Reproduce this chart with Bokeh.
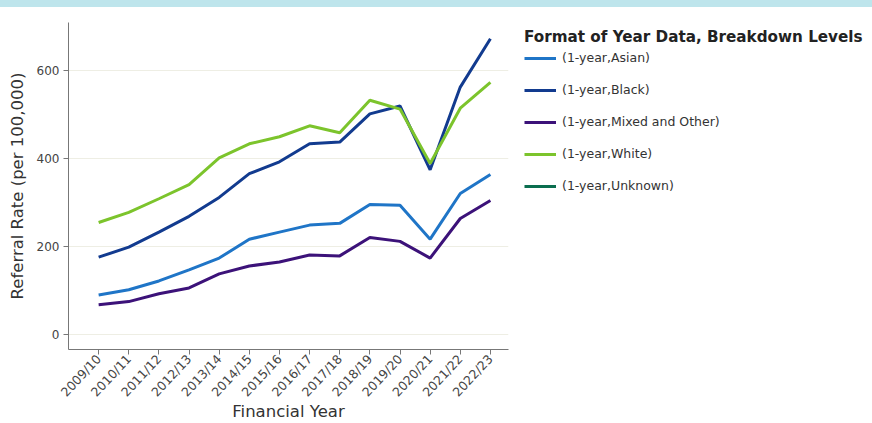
from bokeh.plotting import figure
from bokeh.models import Legend, LegendItem, FixedTicker, Range1d, ColumnDataSource, Div
from bokeh.layouts import column
from bokeh.embed import file_html
from bokeh.resources import INLINE

years = ["2009/10", "2010/11", "2011/12", "2012/13", "2013/14", "2014/15", "2015/16",
         "2016/17", "2017/18", "2018/19", "2019/20", "2020/21", "2021/22", "2022/23"]
asian = [90, 102, 122, 147, 174, 217, 233, 249, 253, 296, 294, 217, 321, 364]
black = [176, 199, 233, 269, 312, 366, 393, 434, 438, 502, 520, 375, 563, 673]
mixed = [68, 75, 93, 106, 138, 156, 165, 181, 179, 221, 212, 174, 264, 305]
white = [255, 278, 309, 341, 402, 434, 450, 475, 459, 533, 513, 389, 515, 574]
unknown = [float("nan")]

series_names = ["(1-year,Asian)", "(1-year,Black)", "(1-year,Mixed and Other)",
                "(1-year,White)", "(1-year,Unknown)"]
series_values = [asian, black, mixed, white, unknown]
series_colors = ["#1f75c7", "#123b8f", "#3c1279", "#7cc42c", "#0b6e4f"]
y_ticks = [0, 200, 400, 600]

FONT = "DejaVu Sans"

strip = Div(text="", width=872, height=7, margin=0,
            styles={"background-color": "#bee5ec"})

p = figure(frame_width=440, height=416, output_backend="svg", toolbar_location=None,
           x_range=Range1d(-1.0, 13.6), y_range=Range1d(-34, 710),
           min_border_left=68, min_border_right=20, min_border_top=15,
           min_border_bottom=73)
p.outline_line_color = None
p.background_fill_color = "white"
p.border_fill_color = "white"

items = []
for name, vals, col in zip(series_names, series_values, series_colors):
    src = ColumnDataSource(dict(x=list(range(len(vals))), y=vals))
    r = p.line("x", "y", source=src, line_color=col, line_width=3)
    items.append(LegendItem(label=name, renderers=[r]))

# axes
p.xaxis.ticker = FixedTicker(ticks=list(range(len(years))))
p.xaxis.major_label_overrides = {i: y for i, y in enumerate(years)}
p.xaxis.major_label_orientation = 0.82
p.yaxis.ticker = FixedTicker(ticks=y_ticks)
for ax in (p.xaxis[0], p.yaxis[0]):
    ax.axis_line_color = "#777777"
    ax.major_tick_line_color = "#777777"
    ax.minor_tick_line_color = None
    ax.major_tick_out = 5
    ax.major_tick_in = 0
    ax.major_label_text_font = FONT
    ax.major_label_text_font_size = "12px"
    ax.major_label_text_color = "#444444"
    ax.axis_label_text_font = FONT
    ax.axis_label_text_font_size = "16.5px"
    ax.axis_label_text_font_style = "normal"
    ax.axis_label_text_color = "#333333"
p.xaxis.major_label_text_font_size = "12.5px"
p.xaxis.axis_label = "Financial Year"
p.yaxis.axis_label = "Referral Rate (per 100,000)"
p.xaxis.major_label_standoff = 2
p.yaxis.major_label_standoff = 4
p.yaxis.axis_label_standoff = 7
p.xaxis.axis_label_standoff = -6

p.xgrid.grid_line_color = None
p.ygrid.grid_line_color = "#eeeee4"
p.ygrid.grid_line_width = 1

legend = Legend(items=items, location=(16, 153.5),
                title="Format of Year Data, Breakdown Levels",
                title_text_font=FONT, title_text_font_style="bold",
                title_text_font_size="15.2px", title_text_color="#222222",
                title_standoff=2,
                label_text_font=FONT, label_text_font_size="12.5px",
                label_text_color="#333333",
                glyph_width=32, glyph_height=20, label_standoff=6,
                spacing=12, padding=0, margin=0,
                border_line_color=None, background_fill_alpha=0)
p.add_layout(legend, "right")

layout = column(strip, p, spacing=0)
open("out.html", "w").write(file_html(layout, INLINE))
